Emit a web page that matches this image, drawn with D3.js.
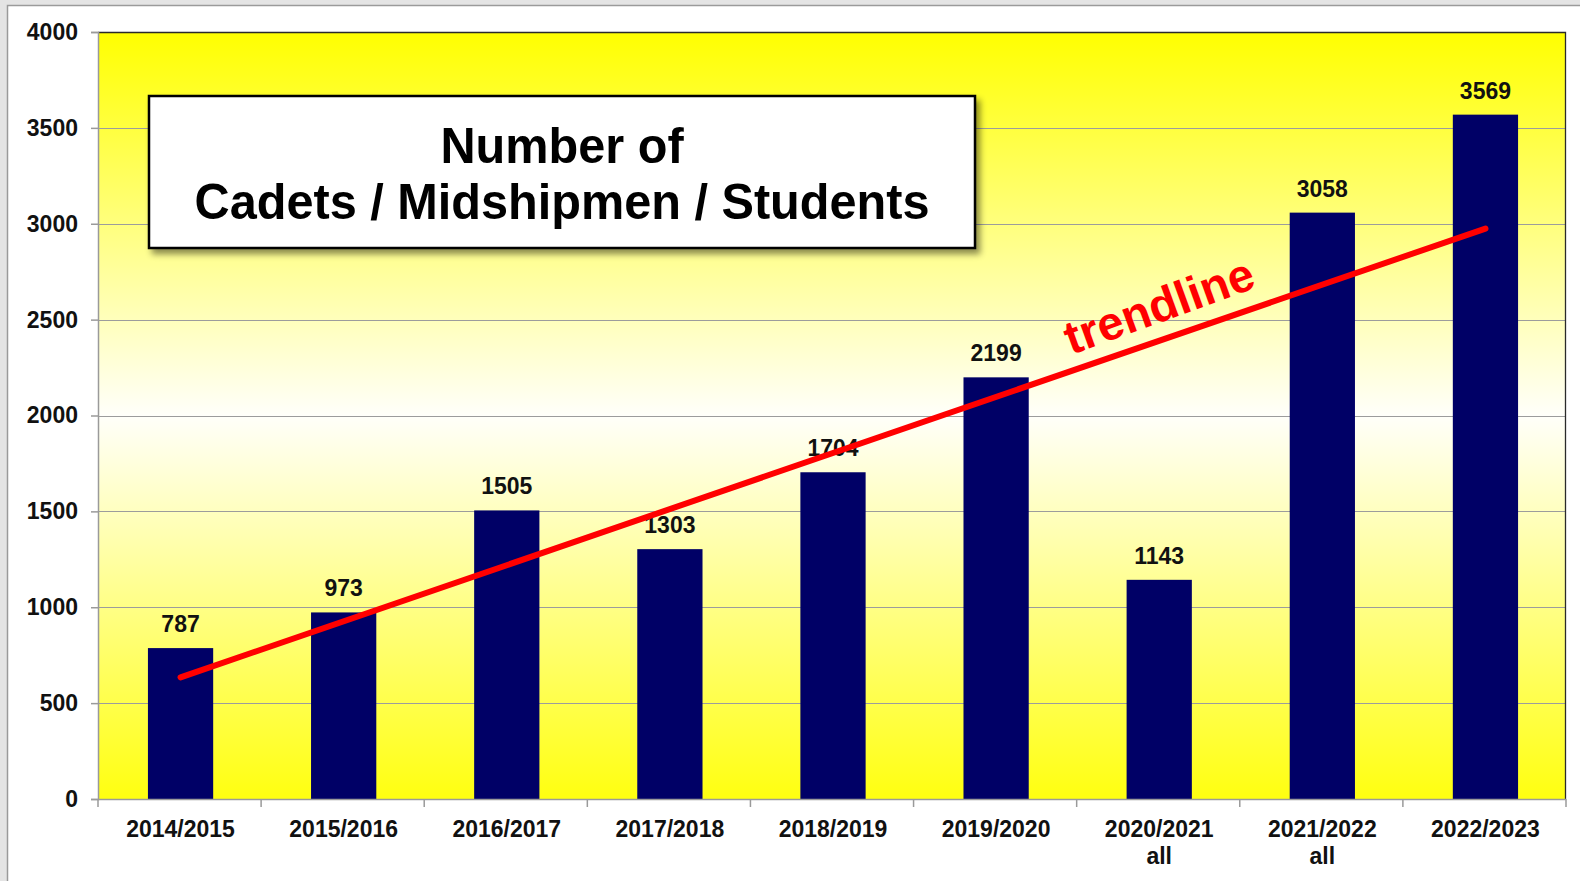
<!DOCTYPE html>
<html>
<head>
<meta charset="utf-8">
<script src="https://cdn.jsdelivr.net/npm/d3@7"></script>
<style>
  html, body { margin: 0; padding: 0; background: #e4e4e4; }
  svg { display: block; }
  text { font-family: "Liberation Sans", Arial, Helvetica, sans-serif; font-weight: bold; }
</style>
</head>
<body>
<svg id="chart" width="1580" height="881"></svg>
<script>
// ---- data ----
const categories = ["2014/2015", "2015/2016", "2016/2017", "2017/2018", "2018/2019", "2019/2020", "2020/2021", "2021/2022", "2022/2023"];
const subLabels  = ["", "", "", "", "", "", "all", "all", ""];
const values     = [787, 973, 1505, 1303, 1704, 2199, 1143, 3058, 3569];
const yTicks     = [0, 500, 1000, 1500, 2000, 2500, 3000, 3500, 4000];
const titleLines = ["Number of", "Cadets / Midshipmen / Students"];
const trendLabel = "trendline";

// ---- layout ----
const W = 1580, H = 881;
const plot = { left: 98, right: 1566, top: 32, bottom: 799 };

const svg = d3.select("#chart");
const defs = svg.append("defs");

const grad = defs.append("linearGradient").attr("id", "bg").attr("x1", 0).attr("y1", 0).attr("x2", 0).attr("y2", 1);
grad.append("stop").attr("offset", "0%").attr("stop-color", "#ffff00");
grad.append("stop").attr("offset", "50%").attr("stop-color", "#fffffa");
grad.append("stop").attr("offset", "100%").attr("stop-color", "#ffff10");

const shadow = defs.append("filter").attr("id", "shadow").attr("x", "-5%").attr("y", "-10%").attr("width", "115%").attr("height", "130%");
shadow.append("feDropShadow").attr("dx", 4).attr("dy", 5).attr("stdDeviation", 3).attr("flood-color", "#000").attr("flood-opacity", 0.45);

// slide background
svg.append("rect").attr("x", 0).attr("y", 0).attr("width", W).attr("height", H).attr("fill", "#e4e4e4");
svg.append("rect").attr("x", 7.5).attr("y", 5.5).attr("width", W).attr("height", H)
  .attr("fill", "#ffffff").attr("stroke", "#9a9a9a").attr("stroke-width", 1.5);

// scales
const x = d3.scaleBand().domain(categories).range([plot.left, plot.right]).padding(0);
const y = d3.scaleLinear().domain([0, 4000]).range([plot.bottom, plot.top]);
const barW = x.step() * 0.4;

// plot background
svg.append("rect").attr("x", plot.left).attr("y", plot.top)
  .attr("width", plot.right - plot.left).attr("height", plot.bottom - plot.top)
  .attr("fill", "url(#bg)");

// gridlines
svg.append("g").selectAll("line").data(yTicks.filter(d => d > 0 && d < 4000)).join("line")
  .attr("x1", plot.left).attr("x2", plot.right)
  .attr("y1", d => Math.round(y(d)) + 0.5).attr("y2", d => Math.round(y(d)) + 0.5)
  .attr("stroke", "#9c9c9c").attr("stroke-width", 1.2);

// plot border top/right
svg.append("path")
  .attr("d", `M${plot.left},${plot.top + 0.5}H${plot.right - 0.5}V${plot.bottom}`)
  .attr("fill", "none").attr("stroke", "#2a2a2a").attr("stroke-width", 1.3);

// y axis
const yAxis = d3.axisLeft(y).tickValues(yTicks).tickSize(7).tickPadding(13).tickFormat(d3.format("d"));
const gy = svg.append("g").attr("transform", `translate(${plot.left},0)`).call(yAxis);
gy.select(".domain").attr("stroke", "#9a9a9a").attr("stroke-width", 1.5);
gy.selectAll(".tick line").attr("stroke", "#9a9a9a").attr("stroke-width", 1.5);
gy.selectAll(".tick text").attr("fill", "#111").style("font-size", "23px")
  .style("font-family", "'Liberation Sans', Arial, sans-serif").style("font-weight", "bold");

// bars
svg.append("g").selectAll("rect").data(values).join("rect")
  .attr("x", (d, i) => x(categories[i]) + x.step() / 2 - barW / 2 + 1)
  .attr("y", d => y(d))
  .attr("width", barW)
  .attr("height", d => y(0) - y(d))
  .attr("fill", "#000066");

// x axis (ticks at category boundaries)
const gx = svg.append("g").attr("transform", `translate(0,${plot.bottom})`);
gx.append("line").attr("x1", plot.left).attr("x2", plot.right).attr("y1", 0.5).attr("y2", 0.5)
  .attr("stroke", "#9a9a9a").attr("stroke-width", 1.5);
const boundaries = categories.map(c => x(c)).concat([plot.right]);
gx.selectAll("line.tk").data(boundaries).join("line").attr("class", "tk")
  .attr("x1", d => d).attr("x2", d => d).attr("y1", 0).attr("y2", 8)
  .attr("stroke", "#9a9a9a").attr("stroke-width", 1.5);
gx.selectAll("text.xl").data(categories).join("text").attr("class", "xl")
  .attr("x", d => x(d) + x.step() / 2 + 1)
  .attr("y", 38)
  .attr("text-anchor", "middle")
  .attr("fill", "#111").style("font-size", "23px")
  .text(d => d);
gx.selectAll("text.sl").data(subLabels).join("text").attr("class", "sl")
  .attr("x", (d, i) => x(categories[i]) + x.step() / 2 + 1)
  .attr("y", 65)
  .attr("text-anchor", "middle")
  .attr("fill", "#111").style("font-size", "23px")
  .text(d => d);

// value labels
svg.append("g").selectAll("text").data(values).join("text")
  .attr("x", (d, i) => x(categories[i]) + x.step() / 2 + 1)
  .attr("y", d => y(d) - 16)
  .attr("text-anchor", "middle")
  .attr("fill", "#111").style("font-size", "23px")
  .text(d => d);

// trendline (least squares on category index)
const n = values.length;
const idx = d3.range(1, n + 1);
const mx = d3.mean(idx), my = d3.mean(values);
const slope = d3.sum(idx, (k, i) => (k - mx) * (values[i] - my)) / d3.sum(idx, k => (k - mx) ** 2);
const intercept = my - slope * mx;
const trendPts = [1, n].map(k => [x(categories[k - 1]) + x.step() / 2 + 1, y(intercept + slope * k)]);
svg.append("line")
  .attr("x1", trendPts[0][0]).attr("y1", trendPts[0][1])
  .attr("x2", trendPts[1][0]).attr("y2", trendPts[1][1])
  .attr("stroke", "#ff0000").attr("stroke-width", 6).attr("stroke-linecap", "round");

// trendline label
const ang = Math.atan2(trendPts[1][1] - trendPts[0][1], trendPts[1][0] - trendPts[0][0]);
const tx = 1170;
const tyLine = trendPts[0][1] + (tx - trendPts[0][0]) * Math.tan(ang);
const off = 17;
svg.append("text")
  .attr("transform", `translate(${tx + off * Math.sin(ang)},${tyLine - off * Math.cos(ang)}) rotate(${ang * 180 / Math.PI - 1})`)
  .attr("text-anchor", "middle")
  .attr("fill", "#ff0000").style("font-size", "47px")
  .text(trendLabel);

// title box
const box = { x: 149, y: 96, w: 826, h: 152 };
svg.append("rect").attr("x", box.x).attr("y", box.y).attr("width", box.w).attr("height", box.h)
  .attr("fill", "#ffffff").attr("stroke", "#000").attr("stroke-width", 2.5).attr("filter", "url(#shadow)");
svg.append("g").selectAll("text").data(titleLines).join("text")
  .attr("transform", (d, i) => `translate(${box.x + box.w / 2},${163 + i * 56}) scale(0.973,1)`)
  .attr("text-anchor", "middle")
  .attr("fill", "#000").style("font-size", "50px")
  .text(d => d);
</script>
</body>
</html>
